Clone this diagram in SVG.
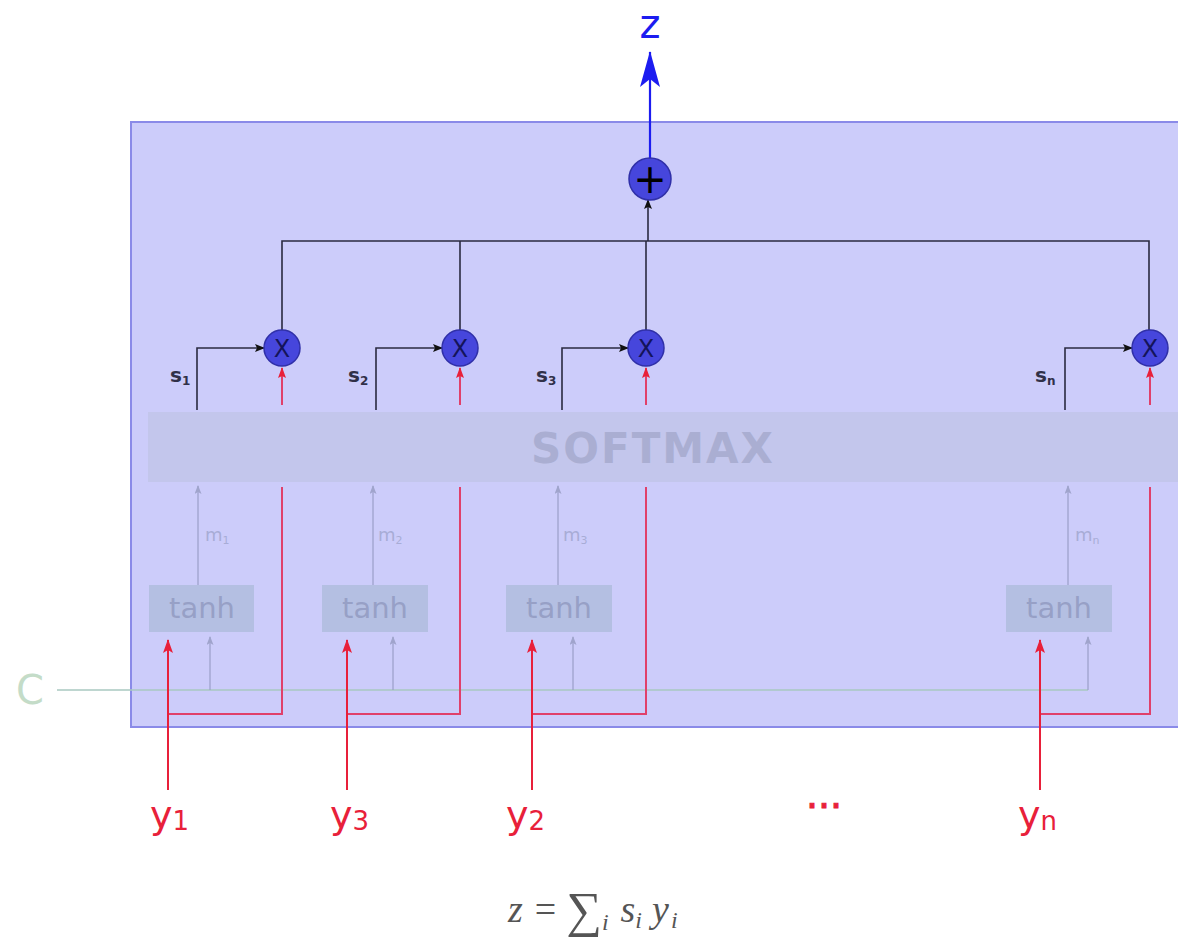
<svg xmlns="http://www.w3.org/2000/svg" width="1178" height="937" viewBox="0 0 1178 937">
<style>
.lab{font-family:"DejaVu Sans",sans-serif}
.blk{stroke:#2a2a40;stroke-width:1.6;fill:none}
.red{stroke:#e0406a;stroke-width:2;fill:none}
.redin{stroke:#e8203a;stroke-width:2;fill:none}
.gry{stroke:#9a9ec8;stroke-width:1.2;fill:none}
.cl{stroke:#a8c8c0;stroke-width:1.5;fill:none}
.op{fill:#4646dc;stroke:#3030a8;stroke-width:1.5}
.tanh{fill:#b4bfe2}
.tt{font-family:"DejaVu Sans",sans-serif;font-size:29px;fill:#97a0c6;text-anchor:middle}
.sl{font-family:"DejaVu Sans",sans-serif;font-size:20px;fill:#303048;font-weight:bold}
.ml{font-family:"DejaVu Sans",sans-serif;font-size:18px;fill:#a8acd6}
.yl{font-family:"DejaVu Sans",sans-serif;font-size:38px;fill:#e8203a}
.ox{font-family:"DejaVu Sans",sans-serif;font-size:24px;fill:#14145a;text-anchor:middle}
.pl{font-family:"DejaVu Sans",sans-serif;font-size:40px;fill:#000;text-anchor:middle}
.fm{font-family:"Liberation Serif",serif;fill:#555}
</style>
<defs>
<marker id="ab" markerWidth="10" markerHeight="8" refX="9" refY="4" orient="auto" markerUnits="userSpaceOnUse"><path d="M0,0 L10,4 L0,8 L2,4 z" fill="#111"/></marker>
<marker id="ar" markerWidth="14" markerHeight="10" refX="13" refY="5" orient="auto" markerUnits="userSpaceOnUse"><path d="M0,0 L14,5 L0,10 L3,5 z" fill="#e8203a"/></marker>
<marker id="ars" markerWidth="11" markerHeight="8" refX="10" refY="4" orient="auto" markerUnits="userSpaceOnUse"><path d="M0,0 L11,4 L0,8 L2,4 z" fill="#e8203a"/></marker>
<marker id="ag" markerWidth="9" markerHeight="7" refX="8" refY="3.5" orient="auto" markerUnits="userSpaceOnUse"><path d="M0,0 L9,3.5 L0,7 L2,3.5 z" fill="#a0a4cc"/></marker>
<marker id="abl" markerWidth="36" markerHeight="20" refX="35" refY="10" orient="auto" markerUnits="userSpaceOnUse"><path d="M0,0 L36,10 L0,20 L8,10 z" fill="#1c1cf0"/></marker>
</defs>

<g id="frame">
<rect x="131" y="122" width="1060" height="605" fill="#ccccfa" stroke="#8a8ae8" stroke-width="2"/>
</g>

<g id="softmax">
<rect x="148" y="412" width="1040" height="70" fill="#c3c6ec"/>
<text x="653" y="463" class="lab" font-size="42" font-weight="bold" fill="#aaaed2" text-anchor="middle" letter-spacing="2">SOFTMAX</text>
</g>

<g id="connectors">
<path class="cl" d="M57,690 H1088"/>
<path class="gry" marker-end="url(#ag)" d="M210,690 V637"/>
<path class="gry" marker-end="url(#ag)" d="M393,690 V637"/>
<path class="gry" marker-end="url(#ag)" d="M573,690 V637"/>
<path class="gry" marker-end="url(#ag)" d="M1088,690 V637"/>
<path class="gry" marker-end="url(#ag)" d="M198,585 V486"/>
<path class="gry" marker-end="url(#ag)" d="M373,585 V486"/>
<path class="gry" marker-end="url(#ag)" d="M558,585 V486"/>
<path class="gry" marker-end="url(#ag)" d="M1068,585 V486"/>
<path class="red" d="M168,714 H282 V487"/>
<path class="red" d="M347,714 H460 V487"/>
<path class="red" d="M532,714 H646 V487"/>
<path class="red" d="M1040,714 H1150 V487"/>
<path class="redin" marker-end="url(#ar)" d="M168,790 V640"/>
<path class="redin" marker-end="url(#ar)" d="M347,790 V640"/>
<path class="redin" marker-end="url(#ar)" d="M532,790 V640"/>
<path class="redin" marker-end="url(#ar)" d="M1040,790 V640"/>
<path class="red" stroke-width="1.6" marker-end="url(#ars)" d="M282,405 V368"/>
<path class="red" stroke-width="1.6" marker-end="url(#ars)" d="M460,405 V368"/>
<path class="red" stroke-width="1.6" marker-end="url(#ars)" d="M646,405 V368"/>
<path class="red" stroke-width="1.6" marker-end="url(#ars)" d="M1150,405 V368"/>
<path class="blk" marker-end="url(#ab)" d="M197,410 V348 H264"/>
<path class="blk" marker-end="url(#ab)" d="M376,410 V348 H442"/>
<path class="blk" marker-end="url(#ab)" d="M562,410 V348 H628"/>
<path class="blk" marker-end="url(#ab)" d="M1065,410 V348 H1132"/>
<path class="blk" d="M282,330 V241 H1149 V330"/>
<path class="blk" d="M460,241 V330"/>
<path class="blk" d="M646,330 V241"/>
<path class="blk" marker-end="url(#ab)" d="M648,241 V200"/>
<path stroke="#1c1cf0" stroke-width="2.2" fill="none" marker-end="url(#abl)" d="M650,159 V52"/>
</g>

<g id="tanh1"><rect class="tanh" x="149" y="585" width="105" height="47"/><text class="tt" x="202" y="618">tanh</text></g>
<g id="tanh2"><rect class="tanh" x="322" y="585" width="106" height="47"/><text class="tt" x="375" y="618">tanh</text></g>
<g id="tanh3"><rect class="tanh" x="506" y="585" width="106" height="47"/><text class="tt" x="559" y="618">tanh</text></g>
<g id="tanhn"><rect class="tanh" x="1006" y="585" width="106" height="47"/><text class="tt" x="1059" y="618">tanh</text></g>

<g id="mul1"><circle class="op" cx="282" cy="348" r="18"/><text class="ox" x="282" y="357">X</text></g>
<g id="mul2"><circle class="op" cx="460" cy="348" r="18"/><text class="ox" x="460" y="357">X</text></g>
<g id="mul3"><circle class="op" cx="646" cy="348" r="18"/><text class="ox" x="646" y="357">X</text></g>
<g id="muln"><circle class="op" cx="1150" cy="348" r="18"/><text class="ox" x="1150" y="357">X</text></g>

<g id="plus"><circle class="op" cx="650" cy="179" r="21"/><text class="pl" x="650" y="193">+</text></g>

<g id="labels">
<text class="lab" x="650" y="38" font-size="40" fill="#1c1cf0" text-anchor="middle">z</text>
<text class="sl" x="170" y="382">s<tspan font-size="12" dy="3">1</tspan></text>
<text class="sl" x="348" y="382">s<tspan font-size="12" dy="3">2</tspan></text>
<text class="sl" x="536" y="382">s<tspan font-size="12" dy="3">3</tspan></text>
<text class="sl" x="1035" y="382">s<tspan font-size="12" dy="3">n</tspan></text>
<text class="ml" x="205" y="541">m<tspan font-size="11" dy="3">1</tspan></text>
<text class="ml" x="378" y="541">m<tspan font-size="11" dy="3">2</tspan></text>
<text class="ml" x="563" y="541">m<tspan font-size="11" dy="3">3</tspan></text>
<text class="ml" x="1075" y="541">m<tspan font-size="11" dy="3">n</tspan></text>
<text class="lab" x="16" y="704" font-size="40" fill="#c4dcc8">C</text>
<text class="yl" x="150" y="828">y<tspan font-size="26" dy="2">1</tspan></text>
<text class="yl" x="330" y="828">y<tspan font-size="26" dy="2">3</tspan></text>
<text class="yl" x="506" y="828">y<tspan font-size="26" dy="2">2</tspan></text>
<text class="yl" x="1018" y="828">y<tspan font-size="26" dy="2">n</tspan></text>
<text class="yl" x="824" y="808" text-anchor="middle" stroke="#e8203a" stroke-width="1">...</text>
<text class="fm" x="508" y="922" font-size="38"><tspan font-style="italic">z</tspan><tspan dx="12">=</tspan><tspan dx="10" font-size="50" dy="5">∑</tspan><tspan font-size="24" font-style="italic" dy="3">i</tspan><tspan dx="12" font-style="italic" dy="-8">s</tspan><tspan font-size="24" font-style="italic" dy="6">i</tspan><tspan dx="10" font-style="italic" dy="-6">y</tspan><tspan dx="2" font-size="24" font-style="italic" dy="6">i</tspan></text>
</g>
</svg>
